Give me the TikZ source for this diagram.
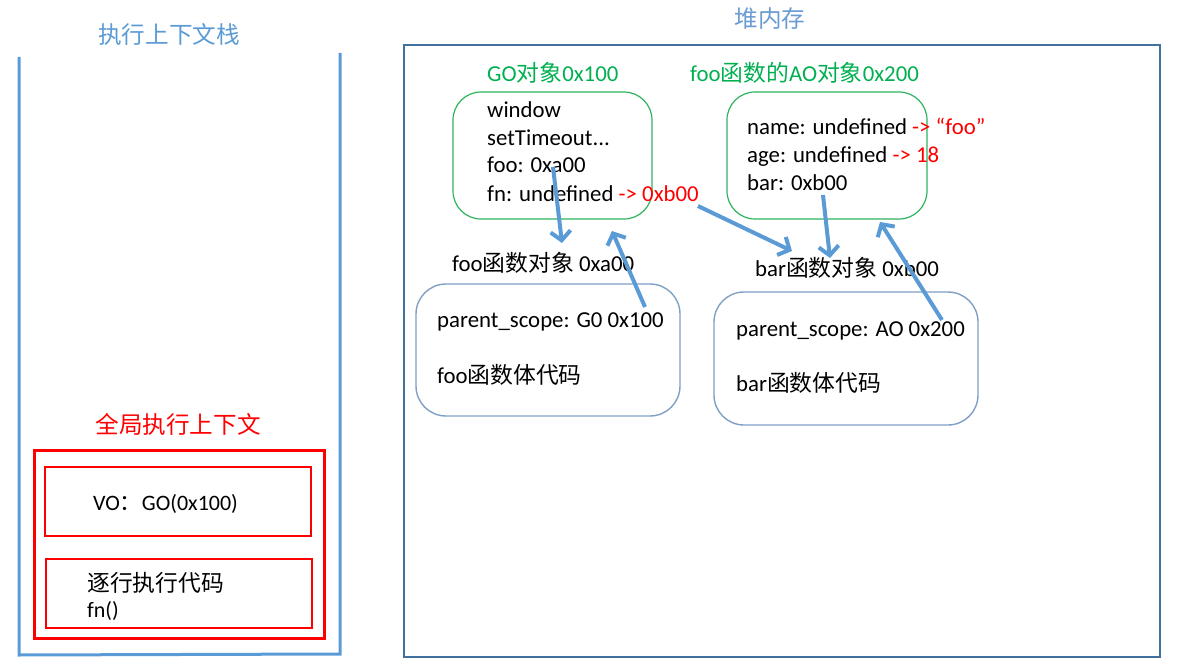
\documentclass[tikz,border=0pt]{standalone}
\usepackage{fontspec}
\setmainfont{Carlito}
\newfontfamily\cjk{Noto Sans CJK SC}
\usetikzlibrary{arrows.meta}
\definecolor{stackblue}{HTML}{5B9BD5}
\definecolor{heapblue}{HTML}{41719C}
\definecolor{boxblue}{HTML}{7F9FC4}
\definecolor{titleblue}{HTML}{6A9BD2}
\definecolor{gtitle}{HTML}{00B050}
\definecolor{gbox}{HTML}{2DB35D}
\definecolor{rred}{HTML}{FF0000}
\newcommand{\zh}[1]{{\cjk #1}}
\tikzset{
  txt/.style={anchor=base west, inner sep=0pt, font=\fontsize{22.8}{27}\selectfont},
  smalltxt/.style={anchor=base west, inner sep=0pt, font=\fontsize{22}{26}\selectfont},
  ttl/.style={anchor=base, inner sep=0pt, font=\fontsize{23.6}{28}\selectfont},
  gobox/.style={draw=gbox, line width=1.2pt, rounded corners=28pt},
  fnbox/.style={draw=boxblue, line width=1.4pt, rounded corners=30pt},
  redbox/.style={draw=rred, line width=2.2pt},
  arr/.style={draw=stackblue, line width=4pt, -{Straight Barb[length=9pt,width=20pt]}},
}
\begin{document}
\begin{tikzpicture}[x=1pt,y=-1pt]
\useasboundingbox (0,0) rectangle (1184,666);
% stack
\node[ttl, text=stackblue] (stacktitle) at (169,44) {\zh{执行上下文栈}};
\draw[stackblue, line width=3pt] (19,57) -- (19,655) -- (340,654) -- (340,53);
\node[ttl, text=rred] (gectitle) at (178,433) {\zh{全局执行上下文}};
\draw[redbox, line width=3pt] (34,450) rectangle (324,638);
\draw[redbox] (45,467) rectangle (311,536);
\draw[redbox] (46,559) rectangle (312,628);
\node[smalltxt] (vo) at (93,510) {VO\zh{：}GO(0x100)};
\node[txt] (zhuhang) at (87,591) {\zh{逐行执行代码}};
\node[smalltxt] (fncall) at (87,617) {fn()};
% heap
\node[ttl, text=titleblue] (heaptitle) at (770,28) {\zh{堆内存}};
\draw[heapblue, line width=2.6pt] (404,45) rectangle (1160,657);
% GO
\node[txt, text=gtitle] (gotitle) at (487,82) {GO\zh{对象}0x100};
\draw[gobox] (453,92) rectangle (652,219);
\node[txt] (l1) at (487,118) {window};
\node[txt] (l2) at (487,146) {setTimeout...};
\node[txt] (l3) at (487,173) {foo: 0xa00};
\node[txt] (l4) at (487,201) {fn: undefined \textcolor{rred}{-> 0xb00}};
% AO
\node[txt, text=gtitle] (aotitle) at (690,82) {foo\zh{函数的}AO\zh{对象}0x200};
\draw[gobox] (727,92) rectangle (927,219);
\node[txt] (m1) at (747,135) {name: undefined \textcolor{rred}{-> “foo”}};
\node[txt] (m2) at (747,163) {age: undefined \textcolor{rred}{-> 18}};
\node[txt] (m3) at (747,190) {bar: 0xb00};
% foo function object
\node[txt] (foolabel) at (452,271) {foo\zh{函数对象} 0xa00};
\draw[fnbox] (416,284) rectangle (680,416);
\node[txt] (fps) at (437,327) {parent\_scope: G0 0x100};
\node[txt] (fbody) at (437,383) {foo\zh{函数体代码}};
% bar function object
\node[txt] (barlabel) at (755,276) {bar\zh{函数对象} 0xb00};
\draw[fnbox] (714,292) rectangle (978,425);
\node[txt] (bps) at (736,336) {parent\_scope: AO 0x200};
\node[txt] (bbody) at (736,391) {bar\zh{函数体代码}};
% arrows
\coordinate (a1s) at (553,167); \coordinate (a1e) at (562,243);
\coordinate (a2s) at (645,307); \coordinate (a2e) at (612,231);
\coordinate (a3s) at (698,206); \coordinate (a3e) at (792,251);
\coordinate (a4s) at (823,195); \coordinate (a4e) at (830,258);
\coordinate (a5s) at (942,320); \coordinate (a5e) at (880,222);
\draw[arr] (a1s) -- (a1e);
\draw[arr] (a2s) -- (a2e);
\draw[arr] (a3s) -- (a3e);
\draw[arr] (a4s) -- (a4e);
\draw[arr] (a5s) -- (a5e);
\end{tikzpicture}
\end{document}
